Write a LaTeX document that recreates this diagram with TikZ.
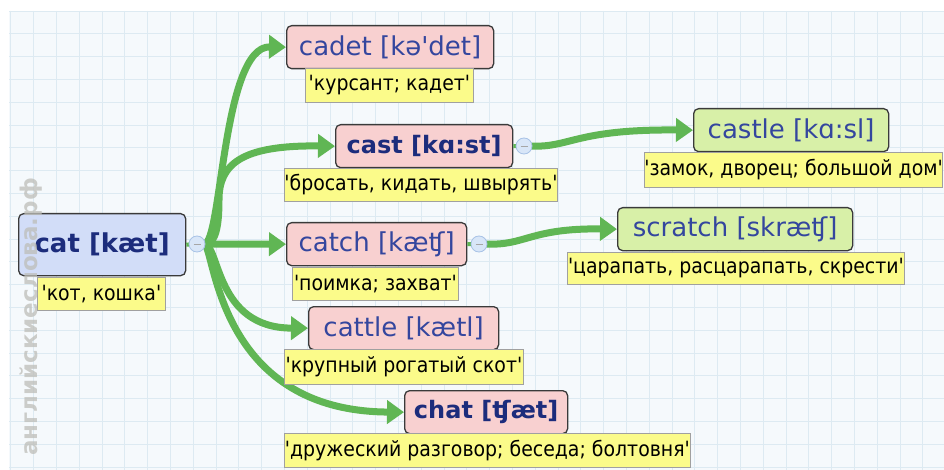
\documentclass[tikz,border=0pt]{standalone}
\usepackage{fontspec}
\usetikzlibrary{arrows.meta}
\newfontfamily\wordf[Ligatures=TeXOff]{DejaVu Sans}
\newfontfamily\glossf[Ligatures=TeXOff,FakeStretch=0.9]{DejaVu Sans}
\definecolor{bgc}{HTML}{F5F9FC}
\definecolor{gridc}{HTML}{DDEAF2}
\definecolor{boxborder}{HTML}{3A3A3A}
\definecolor{pinkc}{HTML}{F8D0D0}
\definecolor{bluec}{HTML}{D2DDF8}
\definecolor{greenc}{HTML}{D8F0A8}
\definecolor{glossc}{HTML}{FBFB8A}
\definecolor{glossborder}{HTML}{A0A0A0}
\definecolor{wordblue}{HTML}{34469E}
\definecolor{boldblue}{HTML}{1C2C7C}
\definecolor{arrowc}{HTML}{60B654}
\definecolor{circf}{HTML}{D8E6F8}
\definecolor{circb}{HTML}{A8C2E6}
\definecolor{wmc}{HTML}{BDBDB8}
\tikzset{
  word/.style={draw=boxborder, line width=1.3pt, rounded corners=5pt, anchor=north west,
    inner sep=0pt, minimum height=43pt, text=wordblue, font=\wordf\fontsize{26}{30}\selectfont},
  wordb/.style={word, text=boldblue, font=\wordf\bfseries\fontsize{24}{30}\selectfont},
  pinkbox/.style={fill=pinkc},
  greenbox/.style={fill=greenc},
  bluebox/.style={fill=bluec},
  gloss/.style={draw=glossborder, line width=0.8pt, fill=glossc, anchor=north west,
    inner sep=0pt, minimum height=34pt, text=black, font=\glossf\fontsize{21}{24}\selectfont},
  conn/.style={draw=arrowc, line width=7pt, -{Triangle[length=17pt,width=23pt]}},
  stub/.style={draw=arrowc, line width=4pt},
  collapse/.style={circle, draw=circb, fill=circf, minimum size=16pt, inner sep=0pt, line width=0.8pt},
  minus/.style={draw=gray!70, line width=0.8pt}
}
\begin{document}
\begin{tikzpicture}[x=1pt,y=-1pt]
\useasboundingbox (0,0) rectangle (944,470);
\fill[white] (0,0) rectangle (944,470);
\fill[bgc] (9,11) rectangle (944,470);
\foreach \i in {0,...,41} \draw[gridc, line width=0.8pt] ({10.8+\i*22.8},11) -- ({10.8+\i*22.8},470);
\foreach \j in {0,...,20} \draw[gridc, line width=0.8pt] (9,{11+\j*22.8}) -- (944,{11+\j*22.8});

% word boxes
\node[wordb, bluebox, minimum width=167pt, minimum height=62pt, font=\wordf\bfseries\fontsize{26}{30}\selectfont] (cat) at (18,213) {cat [kæt]};
\node[word, pinkbox, minimum width=207pt] (cadet) at (286,25) {cadet [kə'det]};
\node[wordb, pinkbox, minimum width=177pt] (cast) at (335,124) {cast [kɑ:st]};
\node[word, pinkbox, minimum width=180pt] (catch) at (286,222) {catch [kæʧ]};
\node[word, pinkbox, minimum width=190pt] (cattle) at (308,306) {cattle [kætl]};
\node[wordb, pinkbox, minimum width=163pt] (chat) at (404,390) {chat [ʧæt]};
\node[word, greenbox, minimum width=195pt] (castle) at (693,108) {castle [kɑ:sl]};
\node[word, greenbox, minimum width=235pt] (scratch) at (617,207) {scratch [skræʧ]};

% collapse circles (positions)
\coordinate (catc) at (197,244);
\coordinate (castc) at (524,146);
\coordinate (catchc) at (479,244);

% connectors
\draw[stub] (cat.east) -- (catc);
\draw[stub] (cast.east) -- (castc);
\draw[stub] (catch.east) -- (catchc);
\draw[conn] ([xshift=7pt]catc) .. controls (222,245) and (222,46) .. (cadet.west);
\draw[conn] ([xshift=7pt]catc) .. controls (216,245) and (219,225) .. (219,200)
  .. controls (219,165) and (240,145) .. (cast.west);
\draw[conn] ([xshift=7pt]catc) -- (catch.west);
\draw[conn] ([xshift=7pt]catc) .. controls (220,245) and (215,328) .. (cattle.west);
\draw[conn] ([xshift=7pt]catc) .. controls (215,245) and (215,411) .. (chat.west);
\draw[conn] ([xshift=7pt]castc) .. controls (570,148) and (575,129) .. (castle.west);
\draw[conn] ([xshift=7pt]catchc) .. controls (525,246) and (530,228) .. (scratch.west);

% circles on top
\node[collapse] (catcn) at (catc) {};
\node[collapse] (castcn) at (castc) {};
\node[collapse] (catchcn) at (catchc) {};
\draw[minus] ([xshift=-3.5pt]catcn.center) -- ([xshift=3.5pt]catcn.center);
\draw[minus] ([xshift=-3.5pt]castcn.center) -- ([xshift=3.5pt]castcn.center);
\draw[minus] ([xshift=-3.5pt]catchcn.center) -- ([xshift=3.5pt]catchcn.center);

% glosses
\node[gloss, minimum width=128pt, minimum height=33pt] (catg) at (37,277) {'кот, кошка'};
\node[gloss, minimum width=168pt] (cadetg) at (305,68) {'курсант; кадет'};
\node[gloss, minimum width=272pt, minimum height=33pt] (castg) at (284,168) {'бросать, кидать, швырять'};
\node[gloss, minimum width=166pt, minimum height=33pt] (catchg) at (292,267) {'поимка; захват'};
\node[gloss, minimum width=239pt, minimum height=35pt] (cattleg) at (284,349) {'крупный рогатый скот'};
\node[gloss, minimum width=406pt] (chatg) at (284,433) {'дружеский разговор; беседа; болтовня'};
\node[gloss, minimum width=296pt, minimum height=35pt] (castleg) at (644,152) {'замок, дворец; большой дом'};
\node[gloss, minimum width=337pt, minimum height=32pt] (scratchg) at (567,252) {'царапать, расцарапать, скрести'};

% watermark
\node[rotate=90, text=wmc, opacity=0.75, font=\wordf\bfseries\fontsize{23}{24}\selectfont] (wm) at (31,317) {английскиеслова.рф};
\end{tikzpicture}
\end{document}
